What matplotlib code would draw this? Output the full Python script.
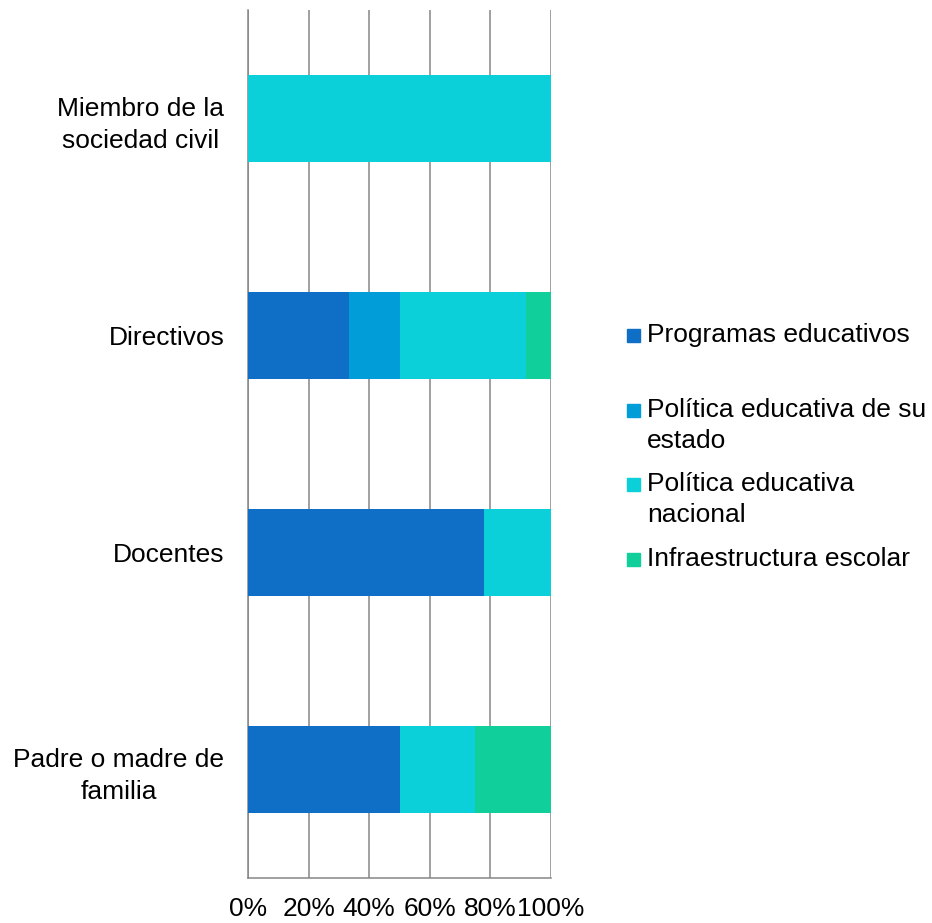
import matplotlib.pyplot as plt
from matplotlib.patches import Rectangle
import numpy as np

plt.rcParams["font.family"] = ["Liberation Sans", "DejaVu Sans"]

# Categories (top to bottom as shown)
categories = [
    "Miembro de la\nsociedad civil",
    "Directivos",
    "Docentes",
    "Padre o madre de\nfamilia",
]
series_names = [
    "Programas educativos",
    "Política educativa de su\nestado",
    "Política educativa\nnacional",
    "Infraestructura escolar",
]
colors = ["#0f6fc6", "#009dd9", "#0bd0d9", "#10cf9b"]

# Shares per category (fractions)
programas = [0.0, 4 / 12, 7 / 9, 0.50]
pol_estado = [0.0, 2 / 12, 0.0, 0.0]
pol_nacional = [1.0, 5 / 12, 2 / 9, 0.25]
infraestructura = [0.0, 1 / 12, 0.0, 0.25]
values = [programas, pol_estado, pol_nacional, infraestructura]

xticks = [0, 0.2, 0.4, 0.6, 0.8, 1.0]
xtick_labels = ["0%", "20%", "40%", "60%", "80%", "100%"]

fig = plt.figure(figsize=(9.32, 9.23), dpi=100)
ax = fig.add_axes([248 / 932, 45 / 923, 303 / 932, 868 / 923])

y = np.arange(len(categories))
left = np.zeros(len(categories))
for vals, col, name in zip(values, colors, series_names):
    vals = np.array(vals)
    ax.barh(y, vals, left=left, height=0.4, color=col, label=name, zorder=3)
    left += vals

ax.set_ylim(len(categories) - 0.5, -0.5)
ax.set_xlim(0, 1)
ax.set_yticks(y)
ax.set_yticklabels(categories, fontsize=19, multialignment="center", linespacing=1.4)
ax.set_xticks(xticks)
ax.set_xticklabels(xtick_labels, fontsize=19)
ax.tick_params(axis="y", length=0, pad=17)
ax.tick_params(axis="x", length=0, pad=14)

ax.grid(axis="x", color="#868686", linewidth=1.1, zorder=0)
ax.spines["top"].set_visible(False)
ax.spines["right"].set_visible(False)
for s in ["left", "bottom"]:
    ax.spines[s].set_color("#868686")
    ax.spines[s].set_linewidth(1.1)

# Legend drawn manually to match spacing of the reference
legend_y = [335, 410, 484, 559]  # pixel centers from top
W, H = 932, 923
sq = 13
for name, col, ly in zip(series_names, colors, legend_y):
    fig.add_artist(Rectangle((627 / W, (H - ly - sq / 2) / H), sq / W, sq / H,
                             transform=fig.transFigure, color=col))
    fig.text(647 / W, (H - ly + 12) / H, name, fontsize=19, ha="left", va="top",
             linespacing=1.35)

plt.savefig("out.png", dpi=100)
